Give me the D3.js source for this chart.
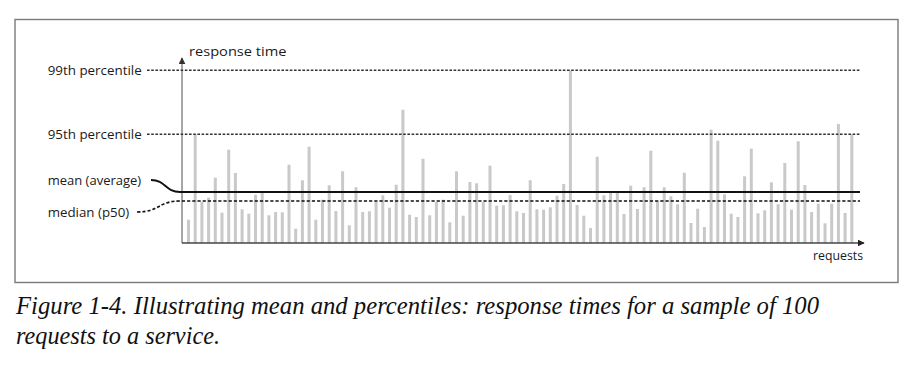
<!DOCTYPE html>
<html>
<head>
<meta charset="utf-8">
<script src="https://cdn.jsdelivr.net/npm/d3@7"></script>
<style>
  html, body { margin: 0; padding: 0; background: #fff; }
  svg { display: block; }
</style>
</head>
<body>
<svg id="chart" width="916" height="382"></svg>
<script>
// ---- Data (arbitrary ms units) ----
const requestIds = d3.range(1, 101);
const responseTimes = [
  23.3, 108.7, 41, 45.3, 65.3, 30.3, 93.3, 70, 33.7, 29.3,
  48.3, 50, 27.7, 31, 30.7, 78.3, 14.3, 62.7, 96.3, 23.3,
  43.3, 57.7, 32, 71.7, 17.7, 55.7, 31, 31.7, 41, 47.7,
  35.3, 58.3, 133.3, 28.3, 26, 84.3, 27.7, 41, 43.3, 20.7,
  71.7, 27.3, 61, 59.7, 41, 77.3, 37.3, 37.7, 48, 31.7,
  30, 62.7, 33.7, 33.3, 35.7, 47.3, 59, 172.7, 38, 27.3,
  15, 86.3, 47.7, 50, 50, 29, 57.3, 34, 55.7, 92.3,
  41.7, 55.7, 46.7, 38.7, 70.3, 20, 34.3, 16, 113.3, 102.3,
  48.7, 29.3, 26, 66.7, 94.3, 29.7, 32.7, 60.7, 38.7, 80,
  33.3, 101.7, 58, 31, 39.3, 19.7, 39.3, 119, 30, 108.7
];
const statNames  = ["99th percentile", "95th percentile", "mean (average)", "median (p50)"];
const statValues = [172.7, 108.7, 51, 42];
const axisLabels = ["response time", "requests"];
const captionLines = [
  "Figure 1-4. Illustrating mean and percentiles: response times for a sample of 100",
  "requests to a service."
];

// ---- Layout ----
const svg = d3.select("#chart");
const x = d3.scaleBand().domain(requestIds).range([185.15, 855.15]).paddingInner(0.552).paddingOuter(0.276);
const y = d3.scaleLinear().domain([0, 185]).range([243, 58]);
const axisX0 = 182, axisXEnd = 864, lineEnd = 860;
const sansFont = "'Open Sans', 'Noto Sans', sans-serif";

// set a text element's rendered width
function fitText(sel, targetWidth) {
  return sel.attr("textLength", targetWidth).attr("lengthAdjust", "spacingAndGlyphs");
}

// frame
svg.append("rect")
  .attr("x", 15).attr("y", 19.5).attr("width", 883).attr("height", 263)
  .attr("fill", "none").attr("stroke", "#7a7a7a").attr("stroke-width", 1.4);

// arrow markers (both drawn pointing along the line direction)
const defs = svg.append("defs");
["arrowUp", "arrowRight"].forEach((id, i) => {
  defs.append("marker").attr("id", id)
    .attr("viewBox", "0 0 10 10").attr("refX", 9).attr("refY", 5)
    .attr("markerWidth", 7).attr("markerHeight", 7).attr("markerUnits", "userSpaceOnUse")
    .attr("orient", "auto")
    .append("path").attr("d", "M0,0 L10,5 L0,10 Z").attr("fill", i === 0 ? "#333" : "#222");
});

// bars
svg.append("g").selectAll("rect")
  .data(responseTimes)
  .join("rect")
  .attr("x", (d, i) => x(requestIds[i]))
  .attr("width", x.bandwidth())
  .attr("y", d => y(d))
  .attr("height", d => y(0) - y(d))
  .attr("fill", "#c9c9c9");

// y axis (arrow)
svg.append("line")
  .attr("x1", axisX0).attr("y1", y(0)).attr("x2", axisX0).attr("y2", y(185))
  .attr("stroke", "#777").attr("stroke-width", 1.3)
  .attr("marker-end", "url(#arrowUp)");
// x axis (arrow)
svg.append("line")
  .attr("x1", axisX0).attr("y1", y(0)).attr("x2", axisXEnd).attr("y2", y(0))
  .attr("stroke", "#444").attr("stroke-width", 1.3)
  .attr("marker-end", "url(#arrowRight)");

// percentile dotted lines
[0, 1].forEach(i => {
  svg.append("line")
    .attr("x1", 147).attr("x2", lineEnd)
    .attr("y1", y(statValues[i])).attr("y2", y(statValues[i]))
    .attr("stroke", "#333").attr("stroke-width", 1.4)
    .attr("stroke-dasharray", "2.6,1.6");
});

// mean line with curved leader
const meanY = y(statValues[2]);
svg.append("path")
  .attr("d", `M151,180 C166,180 165,${meanY} 180,${meanY} L${lineEnd},${meanY}`)
  .attr("fill", "none").attr("stroke", "#111").attr("stroke-width", 1.9);

// median dashed line with curved leader
const medY = y(statValues[3]);
svg.append("path")
  .attr("d", `M137,212 C160,212 158,${medY} 180,${medY} L${lineEnd},${medY}`)
  .attr("fill", "none").attr("stroke", "#111").attr("stroke-width", 1.7)
  .attr("stroke-dasharray", "3.2,2");

// stat labels
const labelTargets = [
  { yc: y(statValues[0]), w: 94 },
  { yc: y(statValues[1]), w: 94 },
  { yc: 180.5, w: 93.5 },
  { yc: 212.5, w: 81.5 }
];
statNames.forEach((name, i) => {
  const t = svg.append("text")
    .attr("x", 47.7).attr("y", labelTargets[i].yc + 4.6)
    .attr("font-family", sansFont).attr("font-size", 13.2)
    .attr("fill", "#1a1a1a")
    .text(name);
  fitText(t, labelTargets[i].w);
});

// axis labels
fitText(svg.append("text")
  .attr("x", 189).attr("y", 56)
  .attr("font-family", sansFont).attr("font-size", 13.4).attr("fill", "#1a1a1a")
  .text(axisLabels[0]), 97.5);
fitText(svg.append("text")
  .attr("x", 863).attr("y", 259.5).attr("text-anchor", "end")
  .attr("font-family", sansFont).attr("font-size", 13.2).attr("fill", "#1a1a1a")
  .text(axisLabels[1]), 50);

// caption
const serif = "'Liberation Serif', 'DejaVu Serif', serif";
fitText(svg.append("text")
  .attr("x", 16).attr("y", 314)
  .attr("font-family", serif).attr("font-style", "italic").attr("font-size", 24.5)
  .attr("fill", "#111").text(captionLines[0]), 803);
fitText(svg.append("text")
  .attr("x", 16).attr("y", 344)
  .attr("font-family", serif).attr("font-style", "italic").attr("font-size", 24.5)
  .attr("fill", "#111").text(captionLines[1]), 204);
</script>
</body>
</html>
